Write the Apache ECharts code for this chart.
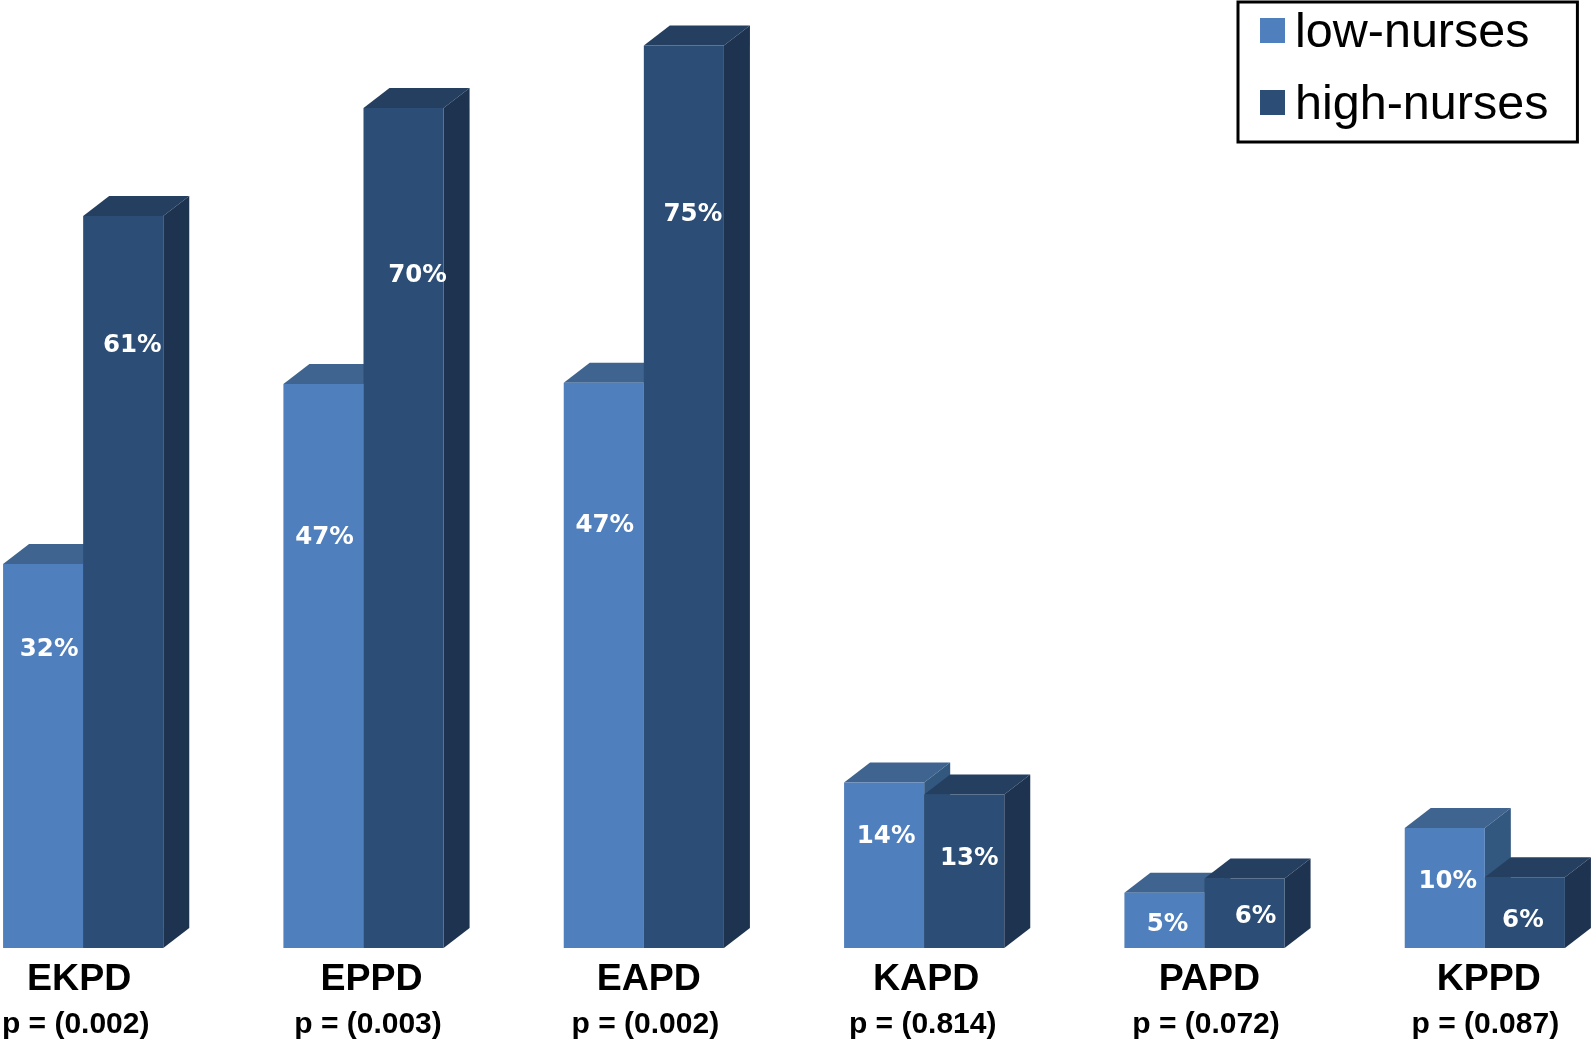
<!DOCTYPE html>
<html>
<head>
<meta charset="utf-8">
<title>low-nurses / high-nurses</title>
<style>
html, body { margin: 0; padding: 0; background: #fff; }
#main { width: 1594px; height: 1040px; }
</style>
<script src="https://cdn.jsdelivr.net/npm/echarts@6/dist/echarts.min.js"></script>
</head>
<body>
<div id="main"></div>
<script>
// data
var categories = ['EKPD', 'EPPD', 'EAPD', 'KAPD', 'PAPD', 'KPPD'];
var pValues = ['p = (0.002)', 'p = (0.003)', 'p = (0.002)', 'p = (0.814)', 'p = (0.072)', 'p = (0.087)'];
var lowValues = [32, 47, 47.1, 13.8, 4.6, 10];
var highValues = [61, 70, 75.2, 12.8, 5.8, 5.9];
var lowLabels = ['32%', '47%', '47%', '14%', '5%', '10%'];
var highLabels = ['61%', '70%', '75%', '13%', '6%', '6%'];

// colours: front, top, side of the boxes
var lowColors = ['#4f7fbc', '#3e648f', '#33587f'];
var highColors = ['#2c4d75', '#243f60', '#1e3350'];

// the percent labels were placed by hand in the original, so they sit
// at a different spot on every bar: [dx from bar centre, dy from bar top]
var lowLabelPos = [[6, 86], [1, 154], [1, 143], [2, 54], [3, 32], [3, 54]];
var highLabelPos = [[9, 130], [14, 168], [9, 169], [5, 64], [11, 38], [-2, 43]];
// same for the category text, px off the group centre
var nameShift = [-4, 8, 5, 2, 5, 4];

var BAR_PART = 0.2857; // one bar as a part of the category band
var DEPTH_X = 26;
var DEPTH_Y = 20;

function box(x, yTop, w, yBase, colors) {
    return [
        { type: 'polygon', shape: { points: [[x, yTop], [x + DEPTH_X, yTop - DEPTH_Y], [x + w + DEPTH_X, yTop - DEPTH_Y], [x + w, yTop]] }, style: { fill: colors[1] } },
        { type: 'polygon', shape: { points: [[x + w, yTop], [x + w + DEPTH_X, yTop - DEPTH_Y], [x + w + DEPTH_X, yBase - DEPTH_Y], [x + w, yBase]] }, style: { fill: colors[2] } },
        { type: 'rect', shape: { x: x, y: yTop, width: w, height: yBase - yTop }, style: { fill: colors[0] } }
    ];
}

// side: -1 low bar (left of the centre), 0 high bar (right of the centre)
function makeRender(side, colors, labels, labelPos) {
    return function (params, api) {
        var i = params.dataIndex;
        var top = api.coord([api.value(0), api.value(1)]);
        var base = api.coord([api.value(0), 0]);
        var w = api.size([1, 0])[0] * BAR_PART;
        var x = top[0] + side * w;
        var children = box(x, top[1], w, base[1], colors);
        children.push({
            type: 'text',
            style: {
                x: x + w / 2 + labelPos[i][0],
                y: top[1] + labelPos[i][1],
                text: labels[i],
                fill: '#fff',
                font: 'bold 24.5px "DejaVu Sans"',
                align: 'center',
                verticalAlign: 'middle'
            }
        });
        return { type: 'group', children: children };
    };
}

function axisItems() {
    return categories.map(function (c, i) {
        var s = nameShift[i];
        return {
            value: c,
            textStyle: { padding: s > 0 ? [0, 0, 0, 2 * s] : [0, -2 * s, 0, 0] }
        };
    });
}

function pairs(values) {
    return values.map(function (v, i) { return [i, v]; });
}

var myChart = echarts.init(document.getElementById('main'));
var option = {
    animation: false,
    backgroundColor: '#fff',
    // bands run past the canvas on both sides, keep echarts from shrinking them
    grid: { left: -57, width: 1682, top: 0, height: 948, outerBoundsMode: 'none' },
    legend: {
        left: 1238,
        top: 2,
        orient: 'vertical',
        align: 'left',
        icon: 'rect',
        itemWidth: 25,
        itemHeight: 25,
        itemGap: 23,
        padding: [7, 29, 12, 22],
        borderColor: '#000',
        borderWidth: 3,
        backgroundColor: '#fff',
        selectedMode: false,
        formatter: '{t|{name}}',
        textStyle: {
            color: '#000',
            padding: [0, 0, 0, 5],
            rich: {
                // padding on top only pushes the word down next to the swatch
                t: { fontFamily: '"Liberation Sans"', fontSize: 48.5, color: '#000', padding: [6, 0, 0, 0] }
            }
        },
        data: ['low-nurses', 'high-nurses']
    },
    xAxis: {
        type: 'category',
        data: axisItems(),
        axisLine: { show: false },
        axisTick: { show: false },
        axisLabel: {
            interval: 0,
            margin: 9,
            formatter: function (value, index) {
                return '{name|' + value + '}\n{p|' + pValues[index] + '}';
            },
            rich: {
                name: { fontFamily: '"Liberation Sans"', fontWeight: 'bold', fontSize: 37.5, lineHeight: 46, color: '#000' },
                p: { fontFamily: '"Liberation Sans"', fontWeight: 'bold', fontSize: 30, lineHeight: 44, color: '#000', padding: [0, 7, 0, 0] }
            }
        }
    },
    yAxis: { type: 'value', min: 0, max: 79, show: false },
    series: [
        {
            name: 'low-nurses',
            type: 'custom',
            clip: false,
            itemStyle: { color: lowColors[0] },
            encode: { x: 0, y: 1 },
            data: pairs(lowValues),
            renderItem: makeRender(-1, lowColors, lowLabels, lowLabelPos)
        },
        {
            name: 'high-nurses',
            type: 'custom',
            clip: false,
            itemStyle: { color: highColors[0] },
            encode: { x: 0, y: 1 },
            data: pairs(highValues),
            renderItem: makeRender(0, highColors, highLabels, highLabelPos)
        }
    ]
};
myChart.setOption(option);
</script>
</body>
</html>
